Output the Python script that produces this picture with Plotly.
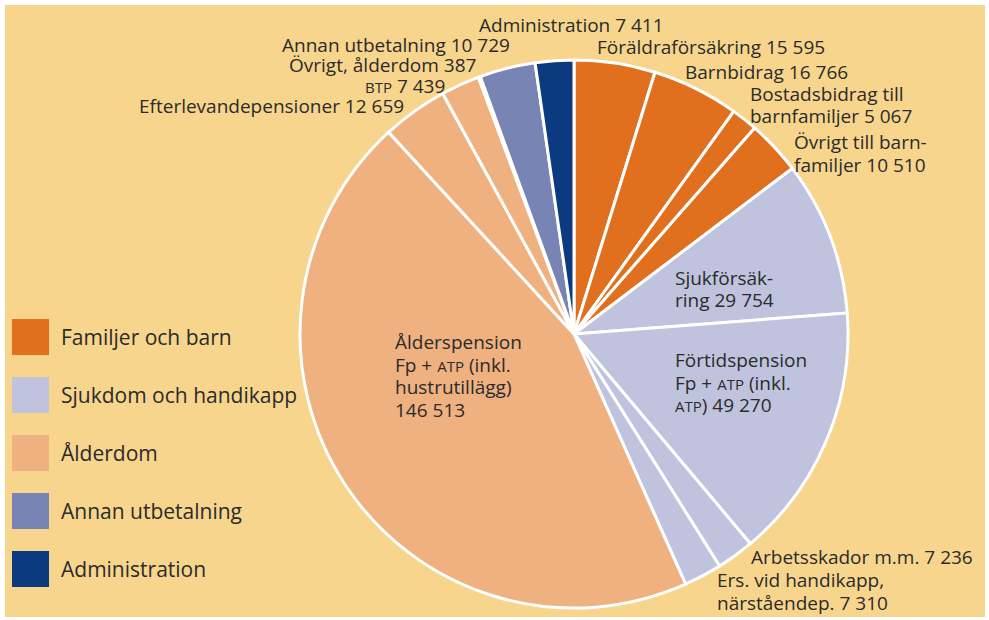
import plotly.graph_objects as go

W, H = 989, 620

# ---- data ----
slice_names = [
    "Föräldraförsäkring", "Barnbidrag", "Bostadsbidrag till barnfamiljer",
    "Övrigt till barnfamiljer", "Sjukförsäkring", "Förtidspension Fp + ATP (inkl. ATP)",
    "Arbetsskador m.m.", "Ers. vid handikapp, närståendep.",
    "Ålderspension Fp + ATP (inkl. hustrutillägg)", "Efterlevandepensioner",
    "BTP", "Övrigt, ålderdom", "Annan utbetalning", "Administration",
]
slice_values = [15595, 16766, 5067, 10510, 29754, 49270, 7236, 7310,
                146513, 12659, 7439, 387, 10729, 7411]
slice_groups = ["Familjer och barn"] * 4 + ["Sjukdom och handikapp"] * 4 + \
               ["Ålderdom"] * 4 + ["Annan utbetalning", "Administration"]
legend_groups = ["Familjer och barn", "Sjukdom och handikapp", "Ålderdom",
                 "Annan utbetalning", "Administration"]

# ---- styles ----
group_colors = {
    "Familjer och barn": "#E0701E",
    "Sjukdom och handikapp": "#BFC3DE",
    "Ålderdom": "#F0B181",
    "Annan utbetalning": "#7884B4",
    "Administration": "#0B3A80",
}
BG = "#F7D58D"
TXT = "#2B2B2B"
FONT = "Open Sans"
LBL = 19
LINE = 22.5

def sc(s):
    return f'<span style="font-size:15px">{s}</span>'

def fmt(v):
    return f"{v:,}".replace(",", " ")

label_lines = [
    [f"Föräldraförsäkring {fmt(slice_values[0])}"],
    [f"Barnbidrag {fmt(slice_values[1])}"],
    ["Bostadsbidrag till", f"barnfamiljer {fmt(slice_values[2])}"],
    ["Övrigt till barn-", f"familjer {fmt(slice_values[3])}"],
    ["Sjukförsäk-", f"ring {fmt(slice_values[4])}"],
    ["Förtidspension", f"Fp + {sc('ATP')} (inkl.", f"{sc('ATP')}) {fmt(slice_values[5])}"],
    [f"Arbetsskador m.m. {fmt(slice_values[6])}"],
    ["Ers. vid handikapp,", f"närståendep. {fmt(slice_values[7])}"],
    ["Ålderspension", f"Fp + {sc('ATP')} (inkl.", "hustrutillägg)", fmt(slice_values[8])],
    [f"Efterlevandepensioner {fmt(slice_values[9])}"],
    [f"{sc('BTP')} {fmt(slice_values[10])}"],
    [f"Övrigt, ålderdom {fmt(slice_values[11])}"],
    [f"Annan utbetalning {fmt(slice_values[12])}"],
    [f"Administration {fmt(slice_values[13])}"],
]
# first-line anchor positions in pixels (left edge, vertical middle of first line)
label_pos = [
    (595, 47), (683, 72), (748, 94), (792, 142), (673, 278), (673, 360),
    (749, 557), (715, 580), (393, 342), (137, 106), (363, 86), (287, 65),
    (280, 45), (477, 25),
]

fig = go.Figure()
fig.add_trace(go.Pie(
    labels=slice_names,
    values=slice_values,
    sort=False,
    direction="clockwise",
    rotation=0,
    textinfo="none",
    hoverinfo="label+value",
    marker=dict(colors=[group_colors[g] for g in slice_groups],
                line=dict(color="white", width=3)),
    domain=dict(x=[300 / W, 848 / W], y=[1 - 608 / H, 1 - 60 / H]),
    showlegend=False,
))

shapes = [dict(type="rect", xref="paper", yref="paper",
               x0=5 / W, x1=985 / W, y0=1 - 617 / H, y1=1 - 5 / H,
               fillcolor=BG, line=dict(width=0), layer="below")]
annotations = []
for lines, (px, py) in zip(label_lines, label_pos):
    for i, t in enumerate(lines):
        annotations.append(dict(text=t, x=px / W, y=1 - (py + i * LINE) / H,
                                xref="paper", yref="paper",
                                xanchor="left", yanchor="middle", align="left",
                                showarrow=False,
                                font=dict(size=LBL, color=TXT, family=FONT)))

# custom legend
for i, g in enumerate(legend_groups):
    cy = 337 + i * 58
    shapes.append(dict(type="rect", xref="paper", yref="paper",
                       x0=12 / W, x1=49 / W, y0=1 - (cy + 18) / H, y1=1 - (cy - 18) / H,
                       fillcolor=group_colors[g], line=dict(width=0)))
    annotations.append(dict(text=g, x=59 / W, y=1 - cy / H, xref="paper", yref="paper",
                            xanchor="left", yanchor="middle", align="left",
                            showarrow=False, font=dict(size=21, color=TXT, family=FONT)))

fig.update_layout(
    width=W, height=H,
    margin=dict(l=0, r=0, t=0, b=0),
    paper_bgcolor="white",
    plot_bgcolor="white",
    shapes=shapes,
    annotations=annotations,
    font=dict(family=FONT, color=TXT),
)

fig.write_html("out.html",
               config={"displayModeBar": False},
               post_script="document.body.style.margin='0';document.body.style.overflow='hidden';")
